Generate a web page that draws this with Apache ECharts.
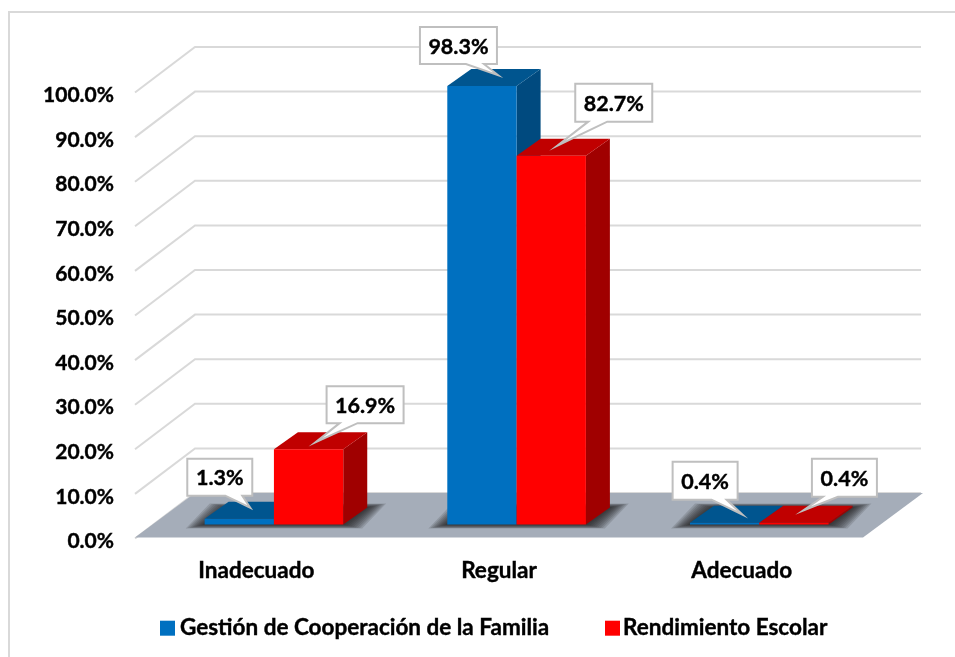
<!DOCTYPE html>
<html><head><meta charset="utf-8">
<style>html,body{margin:0;padding:0;background:#fff}#c{width:955px;height:657px}</style>
<script src="https://cdn.jsdelivr.net/npm/echarts@6/dist/echarts.min.js"></script>
</head><body><div id="c"></div>
<script>
const categories = ['Inadecuado', 'Regular', 'Adecuado'];
const gestion = [1.3, 98.3, 0.4];
const rendimiento = [16.9, 82.7, 0.4];
const yTicks = [0, 10, 20, 30, 40, 50, 60, 70, 80, 90, 100];
const seriesNames = ['Gestión de Cooperación de la Familia', 'Rendimiento Escolar'];

// Drawing constants (pixels)
const FONT = 'Lato';
const WALL = [60, -45.5], PLANE = [17.6, -14], DEPTH = [24, -17], BAR_RATIO = 0.2856;
const SHADOW_LAYERS = [1, 2, 3, 4, 5, 6, 7, 8, 9];
// callout layout relative to bar's front top-centre: boxX, boxY, boxW, boxH, base1, base2, tipX, tipY
const calloutsGestion = [[-52,-60,65,37,-14,3,11,-11], [-62,-59,77,37,-16,2,16,-11], [-52,-61,65,38,-13,2,18,-8]];
const calloutsRendimiento = [[18,-63,77,37,31,49,7,-7], [24,-72,77,38,37,56,6,-10], [18,-64,65,38,29,44,9,-12]];

const BAR_STYLES = [
  {front:'#0070C0', top:'#00558F', side:'#004A7F'},
  {front:'#FF0000', top:'#C00000', side:'#A00000'}
];

function poly(points, fill, extra) {
  return {type:'polygon', shape:{points}, style:Object.assign({fill}, extra||{})};
}
function barGeom(api, side) {
  const idx = api.value(0), v = api.value(1);
  const base = api.coord([idx, 0]), top = api.coord([idx, v]);
  const w = api.size([1, 0])[0] * BAR_RATIO;
  const cx = base[0] + PLANE[0];
  const x0 = side === 0 ? cx - w : cx, x1 = x0 + w;
  return {x0, x1, yb: base[1] + PLANE[1], yt: top[1] + PLANE[1], w};
}
function renderBar(side) {
  return function (params, api) {
    const g = barGeom(api, side), s = BAR_STYLES[side];
    const dx = DEPTH[0], dy = DEPTH[1];
    return {type:'group', children:[
      poly([[g.x1,g.yt],[g.x1+dx,g.yt+dy],[g.x1+dx,g.yb+dy],[g.x1,g.yb]], s.side),
      poly([[g.x0,g.yt],[g.x0+dx,g.yt+dy],[g.x1+dx,g.yt+dy],[g.x1,g.yt]], s.top),
      {type:'rect', shape:{x:g.x0, y:g.yt, width:g.w, height:g.yb-g.yt}, style:{fill:s.front}}
    ]};
  };
}
function renderCallout(side, layout) {
  return function (params, api) {
    const g = barGeom(api, side), c = layout[params.dataIndex];
    const ax = (g.x0 + g.x1) / 2, ay = g.yt;
    const L = ax + c[0], T = ay + c[1], R = L + c[2], B = T + c[3];
    return {type:'group', children:[
      poly([[L,T],[R,T],[R,B],[ax+c[5],B],[ax+c[6],ay+c[7]],[ax+c[4],B],[L,B]], '#fff', {stroke:'#BFBFBF', lineWidth:2}),
      {type:'text', x:(L+R)/2, y:(T+B)/2+1, style:{text:api.value(1).toFixed(1)+'%', align:'center', verticalAlign:'middle',
        fill:'#000', stroke:'#000', lineWidth:0.4, font:'bold 21.5px '+FONT}}
    ]};
  };
}
function renderGrid(params, api) {
  const p = api.coord([0, api.value(0)]);
  const w = api.size([1, 0])[0];
  const x = p[0] - w / 2;
  return {type:'polyline', shape:{points:[[x,p[1]],[x+WALL[0],p[1]+WALL[1]],[x+3*w+WALL[0]-2,p[1]+WALL[1]]]},
    style:{stroke:'#D9D9D9', lineWidth:2, fill:null}};
}
function renderFloor(params, api) {
  const p = api.coord([0, 0]);
  const w = api.size([1, 0])[0];
  const x = p[0] - w / 2, y = p[1];
  return poly([[x,y-1],[x+WALL[0],y+WALL[1]],[x+3*w+WALL[0],y+WALL[1]],[x+3*w,y-1]], '#A5ADB9');
}
function renderShadow(params, api) {
  const p = api.coord([api.value(0), 0]);
  const w = api.size([1, 0])[0] * BAR_RATIO;
  const cx = p[0] + PLANE[0], y = p[1] + PLANE[1];
  const dx = DEPTH[0], dy = DEPTH[1];
  return {type:'group', children:SHADOW_LAYERS.map(k => {
    const ex = 2.1 * (10 - k), ey = 0.45 * (10 - k);
    return poly([[cx-w-ex,y+ey],[cx-w+dx-ex,y+dy-ey],[cx+w+dx+ex,y+dy-ey],[cx+w+ex,y+ey]], 'rgba(25,25,25,0.15)');
  })};
}

const labelFont = {color:'#000', fontFamily:FONT, fontWeight:'bold', textBorderColor:'#000', textBorderWidth:0.4};
const legendBase = {top:616.5, padding:0, icon:'rect', itemWidth:15, itemHeight:15, itemGap:0};
const option = {
  animation:false,
  backgroundColor:'#fff',
  graphic:[{type:'rect', z:-10, shape:{x:9, y:12, width:970, height:670}, style:{fill:'none', stroke:'#D9D9D9', lineWidth:2}}],
  grid:{left:135, width:728, top:92.5, height:446},
  legend:[
    Object.assign({left:160, data:[seriesNames[0]],
      textStyle:Object.assign({fontSize:22.5, padding:[0,0,0,0]}, labelFont)}, legendBase),
    Object.assign({left:605, data:[seriesNames[1]],
      textStyle:Object.assign({fontSize:22.5, padding:[0,0,0,-2]}, labelFont)}, legendBase)
  ],
  xAxis:{type:'category', data:categories, axisLine:{show:false}, axisTick:{show:false}, splitLine:{show:false},
    axisLabel:Object.assign({fontSize:22.5, margin:21}, labelFont)},
  yAxis:{type:'value', min:0, max:100, interval:10, axisLine:{show:false}, axisTick:{show:false}, splitLine:{show:false},
    axisLabel:Object.assign({fontSize:21, margin:21, formatter:v=>'{t|'+v.toFixed(1)+'%}',
      rich:{t:Object.assign({fontSize:21, padding:[6,0,0,0]}, labelFont)}}, labelFont)},
  series:[
    {type:'custom', name:'grid', silent:true, z:1, data:yTicks.map(t=>[t]), encode:{y:0}, renderItem:renderGrid},
    {type:'custom', name:'floor', silent:true, z:2, data:[[0]], encode:{y:0}, renderItem:renderFloor},
    {type:'custom', name:'shadow', silent:true, z:3, data:categories.map((c,i)=>[i]), encode:{x:0}, renderItem:renderShadow},
    {type:'custom', name:seriesNames[0], z:4, itemStyle:{color:BAR_STYLES[0].front}, data:gestion.map((v,i)=>[i,v]), encode:{x:0,y:1}, renderItem:renderBar(0)},
    {type:'custom', name:seriesNames[1], z:5, itemStyle:{color:BAR_STYLES[1].front}, data:rendimiento.map((v,i)=>[i,v]), encode:{x:0,y:1}, renderItem:renderBar(1)},
    {type:'custom', name:'labels1', silent:true, z:6, data:gestion.map((v,i)=>[i,v]), encode:{x:0,y:1}, renderItem:renderCallout(0,calloutsGestion)},
    {type:'custom', name:'labels2', silent:true, z:7, data:rendimiento.map((v,i)=>[i,v]), encode:{x:0,y:1}, renderItem:renderCallout(1,calloutsRendimiento)}
  ]
};
echarts.init(document.getElementById('c'), null, {renderer:'canvas'}).setOption(option);
</script></body></html>
